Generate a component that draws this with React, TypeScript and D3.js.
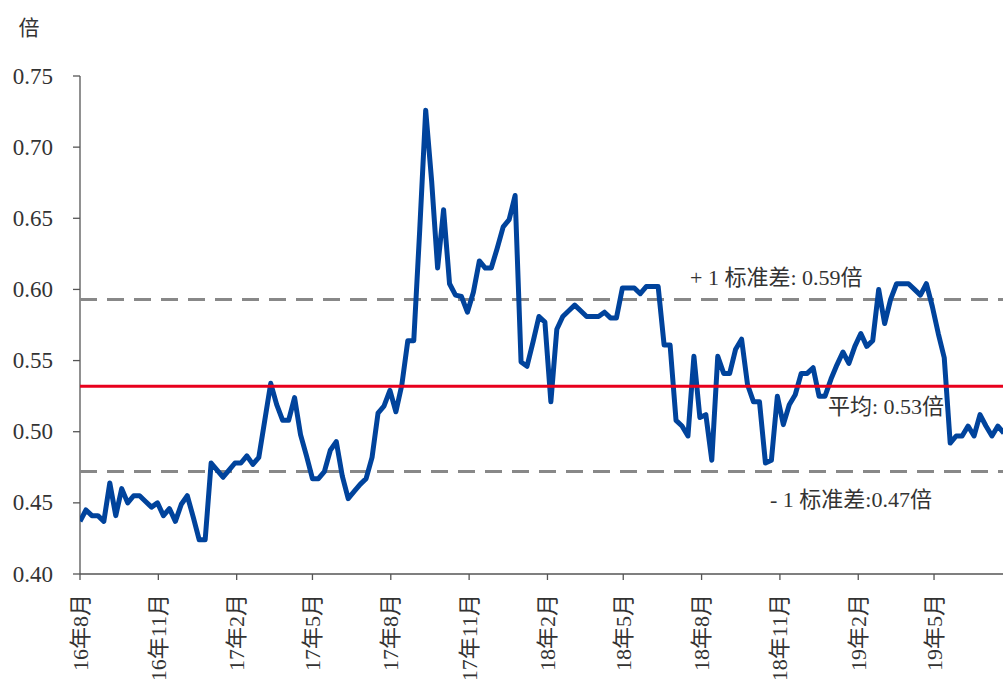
import * as d3 from "d3";

// weekly P/B-like multiple, first week starting 2016-08-01
const startDate = new Date(2016, 7, 1);
const values = [
  0.437, 0.445, 0.441, 0.441, 0.437, 0.464, 0.441, 0.46, 0.45, 0.455,
  0.455, 0.451, 0.447, 0.45, 0.441, 0.446, 0.437, 0.449, 0.455, 0.44,
  0.424, 0.424, 0.478, 0.473, 0.468, 0.473, 0.478, 0.478, 0.483, 0.477,
  0.482, 0.508, 0.534, 0.519, 0.508, 0.508, 0.524, 0.498, 0.483, 0.467,
  0.467, 0.472, 0.487, 0.493, 0.469, 0.453, 0.458, 0.463, 0.467, 0.482,
  0.513, 0.518, 0.529, 0.514, 0.533, 0.564, 0.564, 0.642, 0.726, 0.676,
  0.615, 0.656, 0.604, 0.596, 0.595, 0.584, 0.598, 0.62, 0.615, 0.615,
  0.629, 0.644, 0.649, 0.666, 0.549, 0.546, 0.563, 0.581, 0.577, 0.521,
  0.572, 0.581, 0.585, 0.589, 0.585, 0.581, 0.581, 0.581, 0.584, 0.58,
  0.58, 0.601, 0.601, 0.601, 0.597, 0.602, 0.602, 0.602, 0.561, 0.561,
  0.508, 0.504, 0.497, 0.553, 0.51, 0.512, 0.48, 0.553, 0.541, 0.541,
  0.558, 0.565, 0.533, 0.521, 0.521, 0.478, 0.48, 0.525, 0.505, 0.519,
  0.526, 0.541, 0.541, 0.545, 0.525, 0.525, 0.537, 0.547, 0.556, 0.548,
  0.56, 0.569, 0.56, 0.564, 0.6, 0.576, 0.593, 0.604, 0.604, 0.604,
  0.6, 0.596, 0.604, 0.588, 0.569, 0.552, 0.492, 0.497, 0.497, 0.504,
  0.497, 0.512, 0.504, 0.497, 0.504, 0.499,
];

const meanValue = 0.532;
const upperValue = 0.593;
const lowerValue = 0.472;

const yTicks = [0.4, 0.45, 0.5, 0.55, 0.6, 0.65, 0.7, 0.75];
const xTickLabels = [
  "16年8月", "16年11月", "17年2月", "17年5月", "17年8月", "17年11月",
  "18年2月", "18年5月", "18年8月", "18年11月", "19年2月", "19年5月",
];
const xTickDates = [
  "2016-08-01", "2016-11-01", "2017-02-01", "2017-05-01", "2017-08-01", "2017-11-01",
  "2018-02-01", "2018-05-01", "2018-08-01", "2018-11-01", "2019-02-01", "2019-05-01",
];

const W = 1003;
const H = 679;
const serif = '"Liberation Serif", "DejaVu Serif", "Noto Sans CJK SC", serif';
const txt = { fontFamily: serif };

export default function App() {
  const parse = d3.timeParse("%Y-%m-%d");
  const x = d3
    .scaleTime()
    .domain([startDate, d3.timeDay.offset(startDate, 1084)])
    .range([80, 1003]);
  const y = d3.scaleLinear().domain([0.4, 0.75]).range([574, 76]);

  const data = values.map((v, i) => ({ date: d3.timeDay.offset(startDate, i * 7), value: v }));
  const line = d3
    .line<{ date: Date; value: number }>()
    .x((d) => x(d.date))
    .y((d) => y(d.value));

  const axisColor = "#555";
  const textColor = "#333";

  return (
    <svg
      width={W}
      height={H}
      style={{ position: "absolute", left: 0, top: 0, background: "#fff", fontFamily: serif }}
    >
      <defs>
        <clipPath id="plot">
          <rect x={80} y={0} width={W - 80} height={574} />
        </clipPath>
      </defs>

      <text x={29} y={28} fontSize={21} fill={textColor} textAnchor="middle" dominantBaseline="central" style={txt}>
        倍
      </text>

      {/* y axis */}
      <line x1={80} x2={80} y1={76} y2={574} stroke={axisColor} strokeWidth={1.3} />
      {yTicks.map((t) => (
        <g key={t}>
          <line x1={73} x2={80} y1={y(t)} y2={y(t)} stroke={axisColor} strokeWidth={1.3} />
          <text
            x={53}
            y={y(t)}
            fontSize={23}
            fill={textColor}
            textAnchor="end"
            dominantBaseline="central"
            style={txt}
          >
            {d3.format(".2f")(t)}
          </text>
        </g>
      ))}

      {/* x axis */}
      <line x1={80} x2={W} y1={574} y2={574} stroke={axisColor} strokeWidth={1.3} />
      {xTickDates.map((ds, i) => {
        const px = x(parse(ds) as Date);
        return (
          <g key={ds}>
            <line x1={px} x2={px} y1={574} y2={580} stroke={axisColor} strokeWidth={1.3} />
            <text
              transform={`translate(${px},594) rotate(-90)`}
              fontSize={22}
              fill={textColor}
              textAnchor="end"
              dominantBaseline="central"
              style={txt}
            >
              {xTickLabels[i]}
            </text>
          </g>
        );
      })}

      {/* reference lines */}
      <line x1={80} x2={W} y1={y(upperValue)} y2={y(upperValue)} stroke="#888" strokeWidth={3} strokeDasharray="17 10" />
      <line x1={80} x2={W} y1={y(lowerValue)} y2={y(lowerValue)} stroke="#888" strokeWidth={3} strokeDasharray="17 10" />

      <path
        d={line(data) || ""}
        fill="none"
        stroke="#00439c"
        strokeWidth={5}
        strokeLinejoin="round"
        clipPath="url(#plot)"
      />

      <line x1={80} x2={W} y1={y(meanValue)} y2={y(meanValue)} stroke="#e8001c" strokeWidth={3} />

      <text x={690} y={y(upperValue) - 22} fontSize={22} fill={textColor} dominantBaseline="central" style={txt}>
        + 1 标准差: 0.59倍
      </text>
      <text x={828} y={y(meanValue) + 20} fontSize={22} fill={textColor} dominantBaseline="central" style={txt}>
        平均: 0.53倍
      </text>
      <text x={770} y={y(lowerValue) + 28} fontSize={22} fill={textColor} dominantBaseline="central" style={txt}>
        - 1 标准差:0.47倍
      </text>
    </svg>
  );
}
